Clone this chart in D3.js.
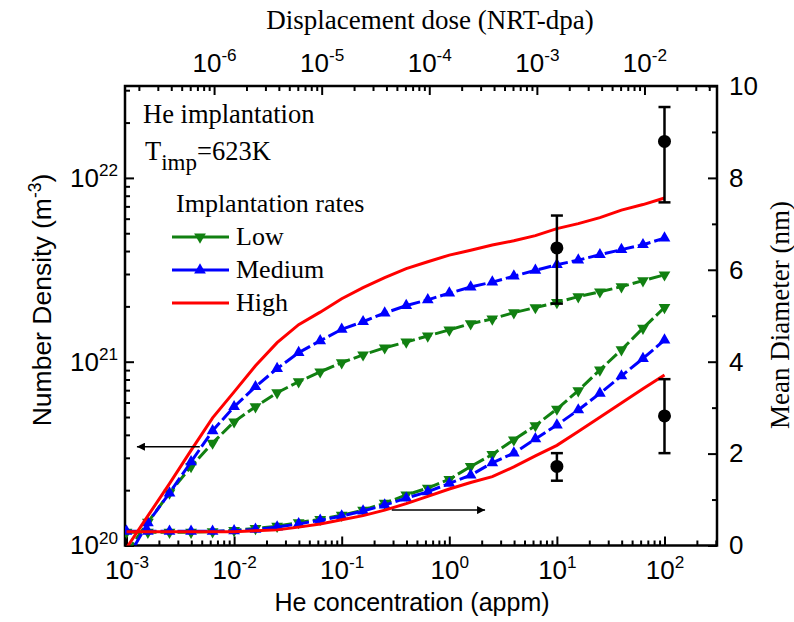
<!DOCTYPE html>
<html>
<head>
<meta charset="utf-8">
<script src="https://cdn.jsdelivr.net/npm/d3@7"></script>
<style>
body { margin: 0; background: #fff; }
</style>
</head>
<body>
<svg width="794" height="622"></svg>
<script>
// He concentration (appm) of the model points
const heConc = [0.001, 0.00158, 0.00251, 0.00398, 0.00631, 0.01, 0.0158, 0.0251, 0.0398, 0.0631,
                0.1, 0.158, 0.251, 0.398, 0.631, 1, 1.58, 2.51, 3.98, 6.31,
                10, 15.8, 25.1, 39.8, 63.1, 100];

// number density (m^-3)
const lowDensity = [9.1e19, 1.34e20, 1.93e20, 2.69e20, 3.61e20, 4.71e20, 5.69e20, 6.78e20, 7.78e20, 8.81e20,
                    9.87e20, 1.09e21, 1.19e21, 1.28e21, 1.38e21, 1.49e21, 1.61e21, 1.71e21, 1.85e21, 1.97e21,
                    2.10e21, 2.26e21, 2.40e21, 2.56e21, 2.76e21, 2.97e21];
const mediumDensity = [8.34e19, 1.33e20, 1.93e20, 2.85e20, 4.21e20, 5.69e20, 7.31e20, 9.17e20, 1.12e21, 1.30e21,
                       1.50e21, 1.65e21, 1.84e21, 2.02e21, 2.17e21, 2.36e21, 2.55e21, 2.71e21, 2.92e21, 3.14e21,
                       3.37e21, 3.57e21, 3.82e21, 4.07e21, 4.33e21, 4.70e21];
const highDensity = [9.69e19, 1.45e20, 2.17e20, 3.29e20, 4.95e20, 6.85e20, 9.50e20, 1.27e21, 1.59e21, 1.86e21,
                     2.20e21, 2.53e21, 2.87e21, 3.21e21, 3.50e21, 3.80e21, 4.04e21, 4.31e21, 4.55e21, 4.85e21,
                     5.30e21, 5.64e21, 6.08e21, 6.68e21, 7.16e21, 7.77e21];

// mean diameter (nm)
const lowDiam = [0.29, 0.29, 0.29, 0.29, 0.30, 0.33, 0.37, 0.42, 0.50, 0.57,
                 0.66, 0.77, 0.92, 1.10, 1.25, 1.44, 1.72, 1.98, 2.30, 2.61,
                 2.97, 3.37, 3.82, 4.26, 4.73, 5.18];
const mediumDiam = [0.31, 0.31, 0.31, 0.31, 0.31, 0.32, 0.35, 0.40, 0.47, 0.55,
                    0.64, 0.75, 0.88, 1.03, 1.17, 1.35, 1.53, 1.80, 2.01, 2.32,
                    2.62, 2.95, 3.31, 3.69, 4.07, 4.47];
const highDiam = [0.30, 0.30, 0.30, 0.30, 0.30, 0.30, 0.32, 0.34, 0.40, 0.47,
                  0.56, 0.65, 0.77, 0.91, 1.07, 1.23, 1.37, 1.50, 1.71, 1.95,
                  2.18, 2.48, 2.79, 3.10, 3.41, 3.71];

// experimental points
const expConc = [10, 100];
const expDensity = [4.16e21, 1.58e22];
const expDensityLow = [2.07e21, 7.36e21];
const expDensityHigh = [6.24e21, 2.43e22];
const expDiam = [1.72, 2.82];
const expDiamLow = [1.41, 2.01];
const expDiamHigh = [2.01, 3.62];

// ticks
const xTickExp = [-3, -2, -1, 0, 1, 2];
const topTickExp = [-6, -5, -4, -3, -2];
const yTickExp = [20, 21, 22];
const diamTicks = [0, 2, 4, 6, 8, 10];
const diamMinor = [1, 3, 5, 7, 9];

// arrows: [x from, x to], y value
const densArrowX = [0.0048, 0.00125];
const densArrowY = 3.45e20;
const diamArrowX = [0.292, 2.15];
const diamArrowY = 0.77;

const dpaPerAppm = 1.535e-4;

const pLeft = 125, pRight = 717, pTop = 86, pBottom = 545.5;
const sans = "'Liberation Sans', Arial, sans-serif";
const serif = "'Liberation Serif', 'Times New Roman', serif";

const svg = d3.select('svg');

const xScale = d3.scaleLog()
                .domain([Math.pow(10, -3.014), Math.pow(10, 2.488)])
                .range([pLeft, pRight]);
const xTop = d3.scaleLog()
                .domain(xScale.domain().map(d => d * dpaPerAppm))
                .range([pLeft, pRight]);
const yDens = d3.scaleLog()
                .domain([1e20, Math.pow(10, 22.5)])
                .range([pBottom, pTop]);
const yDiam = d3.scaleLinear()
                .domain([0, 10])
                .range([pBottom, pTop]);

const isDecade = d => Math.abs(Math.log10(d) - Math.round(Math.log10(d))) < 1e-6;

function supLabels(g) {
  g.selectAll('.tick text').each(function(d) {
    const e = Math.round(Math.log10(d));
    const t = d3.select(this);
    t.text(null);
    t.append('tspan').text('10');
    t.append('tspan').attr('dy', '-0.62em').attr('font-size', '0.66em').text(e);
  });
}

function styleAxis(g) {
  g.select('.domain').remove();
  g.selectAll('.tick line').attr('stroke', '#000').attr('stroke-width', 2);
  g.selectAll('.tick text').attr('fill', '#000').style('font-family', sans).style('font-size', '26px');
}

// bottom axis
svg.append('g')
  .attr('transform', `translate(0,${pBottom})`)
  .call(d3.axisBottom(xScale).tickValues(xScale.ticks().filter(d => !isDecade(d))).tickSize(-5).tickFormat(''))
  .call(styleAxis);
svg.append('g')
  .attr('transform', `translate(0,${pBottom})`)
  .call(d3.axisBottom(xScale).tickValues(xTickExp.map(e => Math.pow(10, e))).tickSize(-9).tickPadding(15))
  .call(styleAxis)
  .call(supLabels);

// top axis
svg.append('g')
  .attr('transform', `translate(0,${pTop})`)
  .call(d3.axisTop(xTop).tickValues(xTop.ticks().filter(d => !isDecade(d))).tickSize(-5).tickFormat(''))
  .call(styleAxis);
svg.append('g')
  .attr('transform', `translate(0,${pTop})`)
  .call(d3.axisTop(xTop).tickValues(topTickExp.map(e => Math.pow(10, e))).tickSize(-9).tickPadding(14))
  .call(styleAxis)
  .call(supLabels);

// left axis
svg.append('g')
  .attr('transform', `translate(${pLeft},0)`)
  .call(d3.axisLeft(yDens).tickValues(yDens.ticks().filter(d => !isDecade(d))).tickSize(-5).tickFormat(''))
  .call(styleAxis);
svg.append('g')
  .attr('transform', `translate(${pLeft},0)`)
  .call(d3.axisLeft(yDens).tickValues(yTickExp.map(e => Math.pow(10, e))).tickSize(-9).tickPadding(7))
  .call(styleAxis)
  .call(supLabels);

// right axis
svg.append('g')
  .attr('transform', `translate(${pRight},0)`)
  .call(d3.axisRight(yDiam).tickValues(diamMinor).tickSize(-5).tickFormat(''))
  .call(styleAxis);
svg.append('g')
  .attr('transform', `translate(${pRight},0)`)
  .call(d3.axisRight(yDiam).tickValues(diamTicks).tickSize(-9).tickPadding(12))
  .call(styleAxis);

// frame
svg.append('rect')
  .attr('x', pLeft).attr('y', pTop)
  .attr('width', pRight - pLeft).attr('height', pBottom - pTop)
  .attr('fill', 'none').attr('stroke', '#000').attr('stroke-width', 2.5);

// axis titles
svg.append('text')
  .attr('x', 412).attr('y', 611)
  .attr('text-anchor', 'middle')
  .style('font-family', sans).style('font-size', '25px')
  .text('He concentration (appm)');

svg.append('text')
  .attr('x', 430).attr('y', 29)
  .attr('text-anchor', 'middle')
  .style('font-family', serif).style('font-size', '27px')
  .text('Displacement dose (NRT-dpa)');

const yTitle = svg.append('text')
  .attr('transform', 'translate(51,300) rotate(-90)')
  .attr('text-anchor', 'middle')
  .style('font-family', sans).style('font-size', '26.5px');
yTitle.append('tspan').text('Number Density (m');
yTitle.append('tspan').attr('dy', '-0.6em').attr('font-size', '0.66em').text('-3');
yTitle.append('tspan').attr('dy', '0.4em').text(')');

svg.append('text')
  .attr('transform', 'translate(789,315) rotate(-90)')
  .attr('text-anchor', 'middle')
  .style('font-family', serif).style('font-size', '27px')
  .text('Mean Diameter (nm)');

// curves
svg.append('clipPath').attr('id', 'plot')
  .append('rect').attr('x', pLeft).attr('y', pTop).attr('width', pRight - pLeft).attr('height', pBottom - pTop);

const plot = svg.append('g').attr('clip-path', 'url(#plot)');

const series = [
  { dens: lowDensity, diam: lowDiam, color: '#118011', dash: '13,4', marker: 'down' },
  { dens: mediumDensity, diam: mediumDiam, color: '#0000ff', dash: '13,4', marker: 'up' },
  { dens: highDensity, diam: highDiam, color: '#ff0000', dash: null, marker: null }
];

const triangle = d3.symbol().type(d3.symbolTriangle).size(60);

series.forEach(s => {
  [[s.dens, yDens], [s.diam, yDiam]].forEach(([vals, yScale]) => {
    const pts = heConc.map((c, i) => [xScale(c), yScale(vals[i])]);
    plot.append('path')
      .attr('d', d3.line()(pts))
      .attr('fill', 'none')
      .attr('stroke', s.color)
      .attr('stroke-width', 3)
      .attr('stroke-dasharray', s.dash);
    if (s.marker) {
      plot.append('g')
        .selectAll('path')
        .data(pts)
        .enter()
        .append('path')
        .attr('d', triangle)
        .attr('transform', d => `translate(${d[0]},${d[1]})` + (s.marker === 'down' ? ' rotate(180)' : ''))
        .attr('fill', s.color);
    }
  });
});

// experimental points with error bars
function expPoints(vals, lows, highs, yScale) {
  const g = svg.append('g');
  expConc.forEach((c, i) => {
    const x = xScale(c);
    g.append('line').attr('x1', x).attr('x2', x)
      .attr('y1', yScale(lows[i])).attr('y2', yScale(highs[i]))
      .attr('stroke', '#000').attr('stroke-width', 2.5);
    [lows[i], highs[i]].forEach(v => {
      g.append('line').attr('x1', x - 6).attr('x2', x + 6)
        .attr('y1', yScale(v)).attr('y2', yScale(v))
        .attr('stroke', '#000').attr('stroke-width', 2.5);
    });
    g.append('circle').attr('cx', x).attr('cy', yScale(vals[i])).attr('r', 6.5).attr('fill', '#000');
  });
}
expPoints(expDensity, expDensityLow, expDensityHigh, yDens);
expPoints(expDiam, expDiamLow, expDiamHigh, yDiam);

// arrows
svg.append('defs').append('marker')
  .attr('id', 'head').attr('viewBox', '0 0 10 10')
  .attr('refX', 10).attr('refY', 5)
  .attr('markerWidth', 12).attr('markerHeight', 8)
  .attr('markerUnits', 'userSpaceOnUse')
  .attr('orient', 'auto')
  .append('path').attr('d', 'M0,0 L10,5 L0,10 Z').attr('fill', '#000');

svg.append('line')
  .attr('x1', xScale(densArrowX[0])).attr('x2', xScale(densArrowX[1]))
  .attr('y1', yDens(densArrowY)).attr('y2', yDens(densArrowY))
  .attr('stroke', '#000').attr('stroke-width', 1.5).attr('marker-end', 'url(#head)');
svg.append('line')
  .attr('x1', xScale(diamArrowX[0])).attr('x2', xScale(diamArrowX[1]))
  .attr('y1', yDiam(diamArrowY)).attr('y2', yDiam(diamArrowY))
  .attr('stroke', '#000').attr('stroke-width', 1.5).attr('marker-end', 'url(#head)');

// annotations
svg.append('text').attr('x', 143).attr('y', 123)
  .style('font-family', serif).style('font-size', '26.5px')
  .text('He implantation');
const tText = svg.append('text').attr('x', 145).attr('y', 160)
  .style('font-family', serif).style('font-size', '26.5px');
tText.append('tspan').text('T');
tText.append('tspan').attr('dy', 10).attr('font-size', '23px').text('imp');
tText.append('tspan').attr('dy', -10).text('=623K');

svg.append('text').attr('x', 176).attr('y', 212)
  .style('font-family', serif).style('font-size', '26px')
  .text('Implantation rates');

const legendNames = ['Low', 'Medium', 'High'];
const legendY = [237, 270, 303];
series.forEach((s, i) => {
  const y = legendY[i];
  svg.append('line').attr('x1', 172).attr('x2', 229).attr('y1', y).attr('y2', y)
    .attr('stroke', s.color).attr('stroke-width', 3);
  if (s.marker) {
    svg.append('path').attr('d', triangle)
      .attr('transform', `translate(200,${y})` + (s.marker === 'down' ? ' rotate(180)' : ''))
      .attr('fill', s.color);
  }
  svg.append('text').attr('x', 236).attr('y', y + 8)
    .style('font-family', serif).style('font-size', '26px')
    .text(legendNames[i]);
});
</script>
</body>
</html>
